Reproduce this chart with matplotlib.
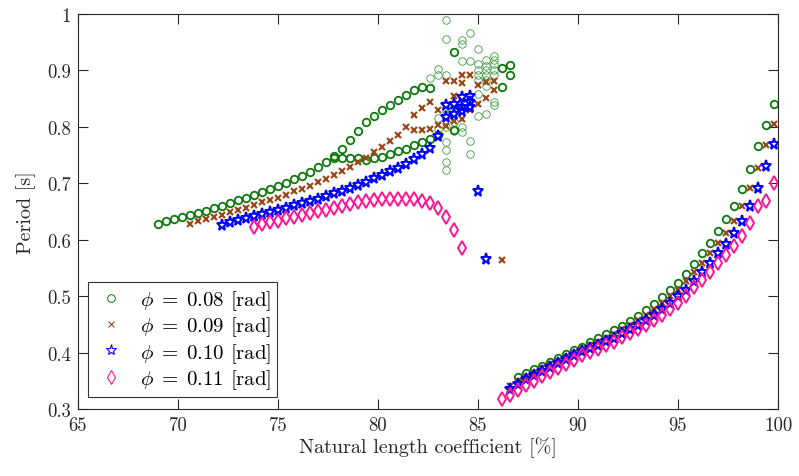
import matplotlib
matplotlib.use("Agg")
import matplotlib.pyplot as plt
from matplotlib.lines import Line2D

plt.rcParams['mathtext.fontset'] = 'cm'
plt.rcParams['font.family'] = ['cmr10', 'DejaVu Serif']
plt.rcParams['axes.formatter.use_mathtext'] = True

# ---------------- data ----------------
labels = [r'$\phi\;=\;0.08$ [rad]', r'$\phi\;=\;0.09$ [rad]',
          r'$\phi\;=\;0.10$ [rad]', r'$\phi\;=\;0.11$ [rad]']

# phi = 0.08 (green circles)
g_low_x = [69.0, 69.4, 69.8, 70.2, 70.6, 71.0, 71.4, 71.8, 72.2, 72.6, 73.0, 73.4, 73.8, 74.2,
           74.6, 75.0, 75.4, 75.8, 76.2, 76.6, 77.0, 77.4, 77.8, 78.2, 78.6, 79.0, 79.4, 79.8,
           80.2, 80.6, 81.0, 81.4, 81.8, 82.2, 82.6, 83.0, 83.8]
g_low_y = [0.628, 0.633, 0.637, 0.640, 0.644, 0.647, 0.651, 0.656, 0.660, 0.665, 0.670, 0.674,
           0.679, 0.684, 0.689, 0.695, 0.701, 0.707, 0.713, 0.720, 0.728, 0.737, 0.745, 0.745,
           0.745, 0.744, 0.742, 0.745, 0.747, 0.752, 0.757, 0.761, 0.767, 0.773, 0.778, 0.786,
           0.794]
g_up_x = [77.8, 78.2, 78.6, 79.0, 79.4, 79.8, 80.2, 80.6, 81.0, 81.4, 81.8, 82.2, 82.6,
          83.8, 86.2, 86.2, 86.6, 86.6]
g_up_y = [0.749, 0.761, 0.777, 0.793, 0.808, 0.819, 0.830, 0.839, 0.848, 0.856, 0.866, 0.871,
          0.868, 0.933, 0.905, 0.870, 0.910, 0.891]
g_cl_x = [82.6, 83.0, 83.0, 83.0, 83.0,
          83.4, 83.4, 83.4, 83.4, 83.4, 83.4, 83.4, 83.4, 83.4, 83.4,
          83.8, 83.8, 84.2, 84.2, 84.2, 84.2, 84.2, 84.6, 84.6, 84.6, 84.6,
          85.0, 85.0, 85.0, 85.0, 85.0, 85.0, 85.0,
          85.4, 85.4, 85.4, 85.4, 85.4, 85.4, 85.4,
          85.8, 85.8, 85.8, 85.8, 85.8, 85.8, 85.8]
g_cl_y = [0.887, 0.903, 0.891, 0.816, 0.796,
          0.990, 0.956, 0.892, 0.829, 0.823, 0.799, 0.773, 0.759, 0.737, 0.724,
          0.808, 0.793, 0.954, 0.947, 0.917, 0.799, 0.790, 0.966, 0.917, 0.775, 0.751,
          0.938, 0.911, 0.900, 0.892, 0.883, 0.859, 0.820,
          0.918, 0.908, 0.900, 0.892, 0.883, 0.873, 0.823,
          0.926, 0.918, 0.911, 0.900, 0.891, 0.844, 0.839]
g_r_x = [87.0, 87.4, 87.8, 88.2, 88.6, 89.0, 89.4, 89.8, 90.2, 90.6, 91.0, 91.4, 91.8, 92.2,
         92.6, 93.0, 93.4, 93.8, 94.2, 94.6, 95.0, 95.4, 95.8, 96.2, 96.6, 97.0, 97.4, 97.8,
         98.2, 98.6, 99.0, 99.4, 99.8]
g_r_y = [0.356, 0.363, 0.370, 0.377, 0.384, 0.390, 0.397, 0.404, 0.410, 0.418, 0.425, 0.432,
         0.440, 0.447, 0.456, 0.465, 0.475, 0.486, 0.498, 0.510, 0.523, 0.539, 0.557, 0.576,
         0.595, 0.615, 0.637, 0.660, 0.690, 0.725, 0.766, 0.804, 0.840]

# phi = 0.09 (brown crosses)
b_x = [70.6, 71.0, 71.4, 71.8, 72.2, 72.6, 73.0, 73.4, 73.8, 74.2, 74.6, 75.0, 75.4, 75.8,
       76.2, 76.6, 77.0, 77.4, 77.8, 78.2, 78.6, 79.0, 79.4, 79.8, 80.2, 80.6, 81.0, 81.4,
       81.8, 82.2, 82.6, 83.0,
       81.8, 82.2, 82.6, 83.0, 83.4, 83.8, 84.2, 84.6, 85.0, 85.4, 85.8,
       83.4, 83.8, 84.2, 84.2, 84.6, 85.0, 85.4, 85.8, 83.8, 86.2]
b_y = [0.628, 0.633, 0.637, 0.640, 0.644, 0.649, 0.653, 0.657, 0.661, 0.666, 0.670, 0.674,
       0.680, 0.686, 0.690, 0.696, 0.702, 0.708, 0.715, 0.721, 0.729, 0.738, 0.745, 0.755,
       0.764, 0.775, 0.786, 0.799,
       0.821, 0.833, 0.844, 0.830,
       0.794, 0.795, 0.796, 0.804, 0.802, 0.810, 0.814, 0.829, 0.841, 0.851, 0.865,
       0.881, 0.881, 0.892, 0.877, 0.892, 0.875, 0.879, 0.881, 0.855, 0.564]
b_r_x = [86.6, 87.0, 87.4, 87.8, 88.2, 88.6, 89.0, 89.4, 89.8, 90.2, 90.6, 91.0, 91.4, 91.8,
         92.2, 92.6, 93.0, 93.4, 93.8, 94.2, 94.6, 95.0, 95.4, 95.8, 96.2, 96.6, 97.0, 97.4,
         97.8, 98.2, 98.6, 99.0, 99.4, 99.8]
b_r_y = [0.340, 0.349, 0.357, 0.364, 0.372, 0.379, 0.385, 0.393, 0.400, 0.406, 0.413, 0.419,
         0.426, 0.433, 0.441, 0.449, 0.457, 0.466, 0.477, 0.488, 0.500, 0.510, 0.526, 0.542,
         0.559, 0.576, 0.594, 0.612, 0.633, 0.659, 0.691, 0.727, 0.768, 0.805]

# phi = 0.10 (blue stars)
s_x = [72.2, 72.6, 73.0, 73.4, 73.8, 74.2, 74.6, 75.0, 75.4, 75.8, 76.2, 76.6, 77.0, 77.4,
       77.8, 78.2, 78.6, 79.0, 79.4, 79.8, 80.2, 80.6, 81.0, 81.4, 81.8, 82.2, 82.6, 83.0,
       83.4, 83.4, 83.8, 83.8, 84.2, 84.2, 84.2, 84.6, 84.6, 84.6, 85.0, 85.4]
s_y = [0.626, 0.631, 0.635, 0.638, 0.642, 0.646, 0.649, 0.653, 0.657, 0.661, 0.665, 0.669,
       0.673, 0.678, 0.682, 0.687, 0.692, 0.697, 0.702, 0.709, 0.715, 0.721, 0.727, 0.734,
       0.743, 0.752, 0.762, 0.784,
       0.838, 0.817, 0.841, 0.823, 0.852, 0.835, 0.828, 0.855, 0.844, 0.835, 0.686, 0.565]
s_r_x = [86.6, 87.0, 87.4, 87.8, 88.2, 88.6, 89.0, 89.4, 89.8, 90.2, 90.6, 91.0, 91.4, 91.8,
         92.2, 92.6, 93.0, 93.4, 93.8, 94.2, 94.6, 95.0, 95.4, 95.8, 96.2, 96.6, 97.0, 97.4,
         97.8, 98.2, 98.6, 99.0, 99.4, 99.8]
s_r_y = [0.335, 0.344, 0.353, 0.360, 0.368, 0.375, 0.381, 0.389, 0.396, 0.402, 0.408, 0.413,
         0.420, 0.426, 0.435, 0.442, 0.449, 0.458, 0.467, 0.477, 0.488, 0.500, 0.511, 0.527,
         0.543, 0.559, 0.576, 0.592, 0.612, 0.633, 0.659, 0.692, 0.730, 0.770]

# phi = 0.11 (pink diamonds)
d_x = [73.8, 74.2, 74.6, 75.0, 75.4, 75.8, 76.2, 76.6, 77.0, 77.4, 77.8, 78.2, 78.6, 79.0,
       79.4, 79.8, 80.2, 80.6, 81.0, 81.4, 81.8, 82.2, 82.6, 83.0, 83.4, 83.8, 84.2]
d_y = [0.623, 0.627, 0.631, 0.634, 0.638, 0.641, 0.644, 0.647, 0.650, 0.653, 0.656, 0.660,
       0.663, 0.666, 0.668, 0.670, 0.672, 0.673, 0.673, 0.673, 0.672, 0.669, 0.665, 0.656,
       0.641, 0.618, 0.586]
d_r_x = [86.2, 86.6, 87.0, 87.4, 87.8, 88.2, 88.6, 89.0, 89.4, 89.8, 90.2, 90.6, 91.0, 91.4,
         91.8, 92.2, 92.6, 93.0, 93.4, 93.8, 94.2, 94.6, 95.0, 95.4, 95.8, 96.2, 96.6, 97.0,
         97.4, 97.8, 98.2, 98.6, 99.0, 99.4, 99.8]
d_r_y = [0.318, 0.325, 0.334, 0.343, 0.350, 0.358, 0.365, 0.372, 0.379, 0.387, 0.395, 0.401,
         0.406, 0.413, 0.419, 0.427, 0.435, 0.442, 0.449, 0.457, 0.467, 0.477, 0.488, 0.501,
         0.516, 0.529, 0.543, 0.559, 0.573, 0.588, 0.607, 0.629, 0.659, 0.668, 0.700]

x_ticks = [65, 70, 75, 80, 85, 90, 95, 100]
y_ticks = [0.3, 0.4, 0.5, 0.6, 0.7, 0.8, 0.9, 1.0]
y_tick_labels = ['0.3', '0.4', '0.5', '0.6', '0.7', '0.8', '0.9', '1']

# ---------------- style ----------------
c_green = '#0b7a0b'
c_brown = '#9a4a1c'
c_blue = '#0000ff'
c_pink = '#ff1493'

fig = plt.figure(figsize=(7.99, 4.77), dpi=100)
ax = fig.add_axes([0.0976, 0.1405, 0.8761, 0.8281])

circ = dict(ls='none', marker='o', ms=5.4, mfc='none', mec=c_green, mew=1.3)
circ_thin = dict(ls='none', marker='o', ms=5.4, mfc='none', mec='#3f9a3f', mew=0.6)
cross = dict(ls='none', marker='x', ms=3.8, mec=c_brown, mew=1.6)
star = dict(ls='none', marker='*', ms=8.2, mfc='none', mec=c_blue, mew=1.5)
diam = dict(ls='none', marker='d', ms=7.2, mfc='none', mec=c_pink, mew=1.4)

ax.plot(g_cl_x, g_cl_y, **circ_thin)
ax.plot(g_low_x, g_low_y, **circ)
ax.plot(g_up_x, g_up_y, **circ)
ax.plot(g_r_x, g_r_y, **circ)
ax.plot(b_x, b_y, **cross)
ax.plot(b_r_x, b_r_y, **cross)
ax.plot(s_x, s_y, **star)
ax.plot(s_r_x, s_r_y, **star)
ax.plot(d_x, d_y, **diam)
ax.plot(d_r_x, d_r_y, **diam)

ax.set_xlim(65, 100)
ax.set_ylim(0.3, 1.0)
ax.set_xticks(x_ticks)
ax.set_xticklabels([str(v) for v in x_ticks])
ax.set_yticks(y_ticks)
ax.set_yticklabels(y_tick_labels)

axcol = '#262626'
for sp in ax.spines.values():
    sp.set_color(axcol)
    sp.set_linewidth(0.8)
ax.tick_params(direction='in', length=7, width=0.8, colors=axcol, labelsize=13.5,
               top=True, right=True, pad=5)
for t in ax.get_xticklabels() + ax.get_yticklabels():
    t.set_color('#262626')

ax.set_xlabel('Natural length coefficient [%]', fontsize=14.5, color='#262626', labelpad=2)
ax.set_ylabel('Period [s]', fontsize=14.5, color='#262626', labelpad=8)

handles = [
    Line2D([], [], ls='none', marker='o', ms=5.5, mfc='none', mec=c_green, mew=0.7),
    Line2D([], [], ls='none', marker='x', ms=3.8, mec=c_brown, mew=0.8),
    Line2D([], [], ls='none', marker='*', ms=8, mfc='none', mec=c_blue, mew=0.8),
    Line2D([], [], ls='none', marker='d', ms=7, mfc='none', mec=c_pink, mew=0.8),
]
leg = ax.legend(handles, labels, loc='lower left', bbox_to_anchor=(0.014, 0.03),
                borderaxespad=0, fontsize=15, frameon=True, fancybox=False,
                edgecolor='#333333', framealpha=1, handlelength=1.6, handletextpad=0.6,
                labelspacing=0.12, borderpad=0.3)
leg.get_frame().set_linewidth(0.8)

fig.savefig('out.png', dpi=100)
